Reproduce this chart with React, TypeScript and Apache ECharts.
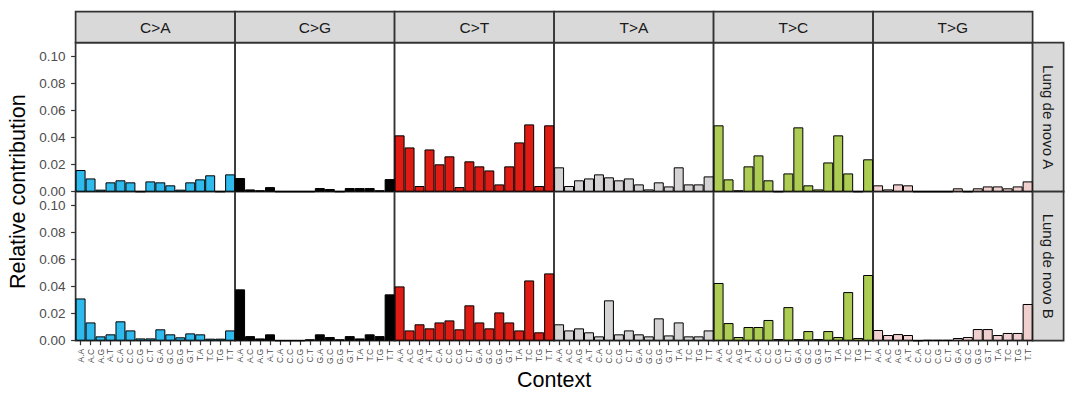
import React, { useEffect, useRef } from "react";
import * as echarts from "echarts";

// Trinucleotide contexts (5' base . 3' base) around each substitution
const contexts = [
  "A.A", "A.C", "A.G", "A.T", "C.A", "C.C", "C.G", "C.T",
  "G.A", "G.C", "G.G", "G.T", "T.A", "T.C", "T.G", "T.T",
];
const mutationTypes = ["C>A", "C>G", "C>T", "T>A", "T>C", "T>G"];
const sampleNames = ["Lung de novo A", "Lung de novo B"];
const typeColors = ["#2EBAED", "#000000", "#DE1C14", "#D4D2D2", "#ADCC54", "#F0D0CE"];
const yTicks = [0, 0.02, 0.04, 0.06, 0.08, 0.1];

// Lung de novo A
const lungA_CA = [0.016, 0.0098, 0.0015, 0.0069, 0.0084, 0.0069, 0, 0.0076, 0.0069, 0.0047, 0.0015, 0.0069, 0.0091, 0.0121, 0, 0.0128];
const lungA_CG = [0.0101, 0.0017, 0.001, 0.0034, 0, 0, 0, 0, 0.0027, 0.002, 0, 0.0027, 0.0027, 0.0027, 0.001, 0.0093];
const lungA_CT = [0.0416, 0.0327, 0.0042, 0.0312, 0.0202, 0.0261, 0.0034, 0.0224, 0.0187, 0.0157, 0.0054, 0.0187, 0.0364, 0.0497, 0.0042, 0.049];
const lungA_TA = [0.018, 0.0042, 0.0084, 0.0098, 0.0128, 0.0106, 0.0084, 0.0098, 0.0054, 0.0017, 0.0069, 0.0039, 0.018, 0.0054, 0.0054, 0.0113];
const lungA_TC = [0.049, 0.0091, 0.001, 0.0187, 0.0268, 0.0084, 0, 0.0135, 0.0475, 0.0047, 0.0017, 0.0216, 0.0416, 0.0135, 0, 0.0239];
const lungA_TG = [0.0047, 0.0017, 0.0054, 0.0047, 0, 0, 0, 0, 0.0025, 0, 0.0025, 0.0039, 0.0039, 0.0025, 0.0039, 0.0076];

// Lung de novo B
const lungB_CA = [0.0312, 0.0135, 0.0032, 0.0047, 0.0143, 0.0076, 0.0017, 0.0017, 0.0084, 0.0047, 0.0025, 0.0054, 0.0047, 0.0015, 0.0015, 0.0076];
const lungB_CG = [0.0379, 0.0034, 0.0017, 0.0047, 0, 0, 0, 0.001, 0.0047, 0.0027, 0.001, 0.0034, 0.0017, 0.0047, 0.0034, 0.0342];
const lungB_CT = [0.0401, 0.0076, 0.0121, 0.0091, 0.0135, 0.015, 0.0084, 0.0261, 0.0135, 0.0091, 0.0209, 0.0135, 0.0076, 0.0445, 0.0062, 0.0497];
const lungB_TA = [0.0121, 0.0076, 0.0091, 0.0062, 0.0032, 0.0298, 0.0047, 0.0076, 0.0047, 0.0032, 0.0165, 0.0039, 0.0135, 0.0032, 0.0032, 0.0076];
const lungB_TC = [0.0426, 0.013, 0.0027, 0.0101, 0.0101, 0.0153, 0.0012, 0.0248, 0.0012, 0.0071, 0.0012, 0.0071, 0.0027, 0.0359, 0.002, 0.0485];
const lungB_TG = [0.0079, 0.0042, 0.0049, 0.0042, 0, 0.0005, 0.0005, 0.0005, 0.002, 0.0027, 0.0086, 0.0086, 0.0042, 0.0057, 0.0057, 0.0271];

const profiles = [
  [lungA_CA, lungA_CG, lungA_CT, lungA_TA, lungA_TC, lungA_TG],
  [lungB_CA, lungB_CG, lungB_CT, lungB_TA, lungB_TC, lungB_TG],
];

const FONT = "'Liberation Sans', Arial, sans-serif";

// Facet layout
const PANEL_LEFT = 75.6;
const PANEL_W = 159.5;
const PANEL_TOP = 42.7;
const PANEL_H = 149;
const STRIP_TOP = 11.7;
const STRIP_H = 31;
const RSTRIP_W = 31;
const BORDER = "#333333";
const BORDER_W = 1.7;
const STRIP_FILL = "#D9D9D9";

export default function App() {
  const ref = useRef<HTMLDivElement>(null);

  useEffect(() => {
    if (!ref.current) return;
    const chart = echarts.init(ref.current, undefined, { renderer: "svg" });

    const grids: any[] = [];
    const xAxes: any[] = [];
    const yAxes: any[] = [];
    const series: any[] = [];
    const graphics: any[] = [];

    sampleNames.forEach((sample, r) => {
      mutationTypes.forEach((mt, c) => {
        const idx = r * mutationTypes.length + c;
        const isBottom = r === sampleNames.length - 1;
        const isLeft = c === 0;
        grids.push({
          left: PANEL_LEFT + c * PANEL_W,
          top: PANEL_TOP + r * PANEL_H,
          width: PANEL_W,
          height: PANEL_H,
          show: true,
          backgroundColor: "#FFFFFF",
          borderColor: BORDER,
          borderWidth: BORDER_W,
          containLabel: false,
        });
        xAxes.push({
          type: "category",
          gridIndex: idx,
          data: contexts,
          boundaryGap: true,
          axisLine: { show: false },
          axisTick: {
            show: isBottom,
            alignWithLabel: true,
            length: 4.5,
            lineStyle: { color: BORDER, width: 1.2 },
          },
          axisLabel: {
            show: isBottom,
            rotate: 90,
            interval: 0,
            margin: 8,
            fontSize: 8.6,
            color: "#4D4D4D",
            fontFamily: FONT,
          },
          splitLine: { show: false },
        });
        yAxes.push({
          type: "value",
          gridIndex: idx,
          min: 0,
          max: 0.11,
          axisLine: { show: false },
          axisTick: {
            show: isLeft,
            length: 4.5,
            customValues: yTicks,
            lineStyle: { color: BORDER, width: 1.2 },
          },
          axisLabel: {
            show: isLeft,
            customValues: yTicks,
            margin: 10,
            fontSize: 13.5,
            lineHeight: 12,
            color: "#4D4D4D",
            fontFamily: FONT,
            formatter: (v: number) => v.toFixed(2),
          },
          splitLine: { show: false },
        });
        series.push({
          type: "bar",
          name: `${sample} ${mt}`,
          xAxisIndex: idx,
          yAxisIndex: idx,
          data: profiles[r][c],
          barCategoryGap: "0%",
          itemStyle: {
            color: typeColors[c],
            borderColor: "#000000",
            borderWidth: 1,
          },
        });
      });
    });

    // Column strips
    mutationTypes.forEach((mt, c) => {
      graphics.push({
        type: "rect",
        shape: { x: PANEL_LEFT + c * PANEL_W, y: STRIP_TOP, width: PANEL_W, height: STRIP_H },
        style: { fill: STRIP_FILL, stroke: BORDER, lineWidth: BORDER_W },
      });
      graphics.push({
        type: "text",
        x: PANEL_LEFT + c * PANEL_W + PANEL_W / 2,
        y: STRIP_TOP + STRIP_H / 2,
        style: {
          text: mt,
          fontSize: 15.5,
          fontFamily: FONT,
          fill: "#1A1A1A",
          align: "center",
          verticalAlign: "middle",
        },
      });
    });

    // Row strips
    const stripX = PANEL_LEFT + mutationTypes.length * PANEL_W;
    sampleNames.forEach((sample, r) => {
      graphics.push({
        type: "rect",
        shape: { x: stripX, y: PANEL_TOP + r * PANEL_H, width: RSTRIP_W, height: PANEL_H },
        style: { fill: STRIP_FILL, stroke: BORDER, lineWidth: BORDER_W },
      });
      graphics.push({
        type: "text",
        x: stripX + RSTRIP_W / 2,
        y: PANEL_TOP + r * PANEL_H + PANEL_H / 2,
        rotation: -Math.PI / 2,
        style: {
          text: sample,
          fontSize: 15,
          fontFamily: FONT,
          fill: "#1A1A1A",
          align: "center",
          verticalAlign: "middle",
        },
      });
    });

    // Axis titles
    graphics.push({
      type: "text",
      x: 18,
      y: PANEL_TOP + PANEL_H,
      rotation: Math.PI / 2,
      style: {
        text: "Relative contribution",
        fontSize: 21.5,
        fontFamily: FONT,
        fill: "#000000",
        align: "center",
        verticalAlign: "middle",
      },
    });
    graphics.push({
      type: "text",
      x: PANEL_LEFT + (mutationTypes.length * PANEL_W) / 2,
      y: 380,
      style: {
        text: "Context",
        fontSize: 21.5,
        fontFamily: FONT,
        fill: "#000000",
        align: "center",
        verticalAlign: "middle",
      },
    });

    chart.setOption({
      animation: false,
      backgroundColor: "#FFFFFF",
      textStyle: { fontFamily: FONT },
      grid: grids,
      xAxis: xAxes,
      yAxis: yAxes,
      series,
      graphic: graphics,
    });

    return () => chart.dispose();
  }, []);

  return (
    <div
      ref={ref}
      style={{ position: "absolute", left: 0, top: 0, width: 1080, height: 414 }}
    />
  );
}
